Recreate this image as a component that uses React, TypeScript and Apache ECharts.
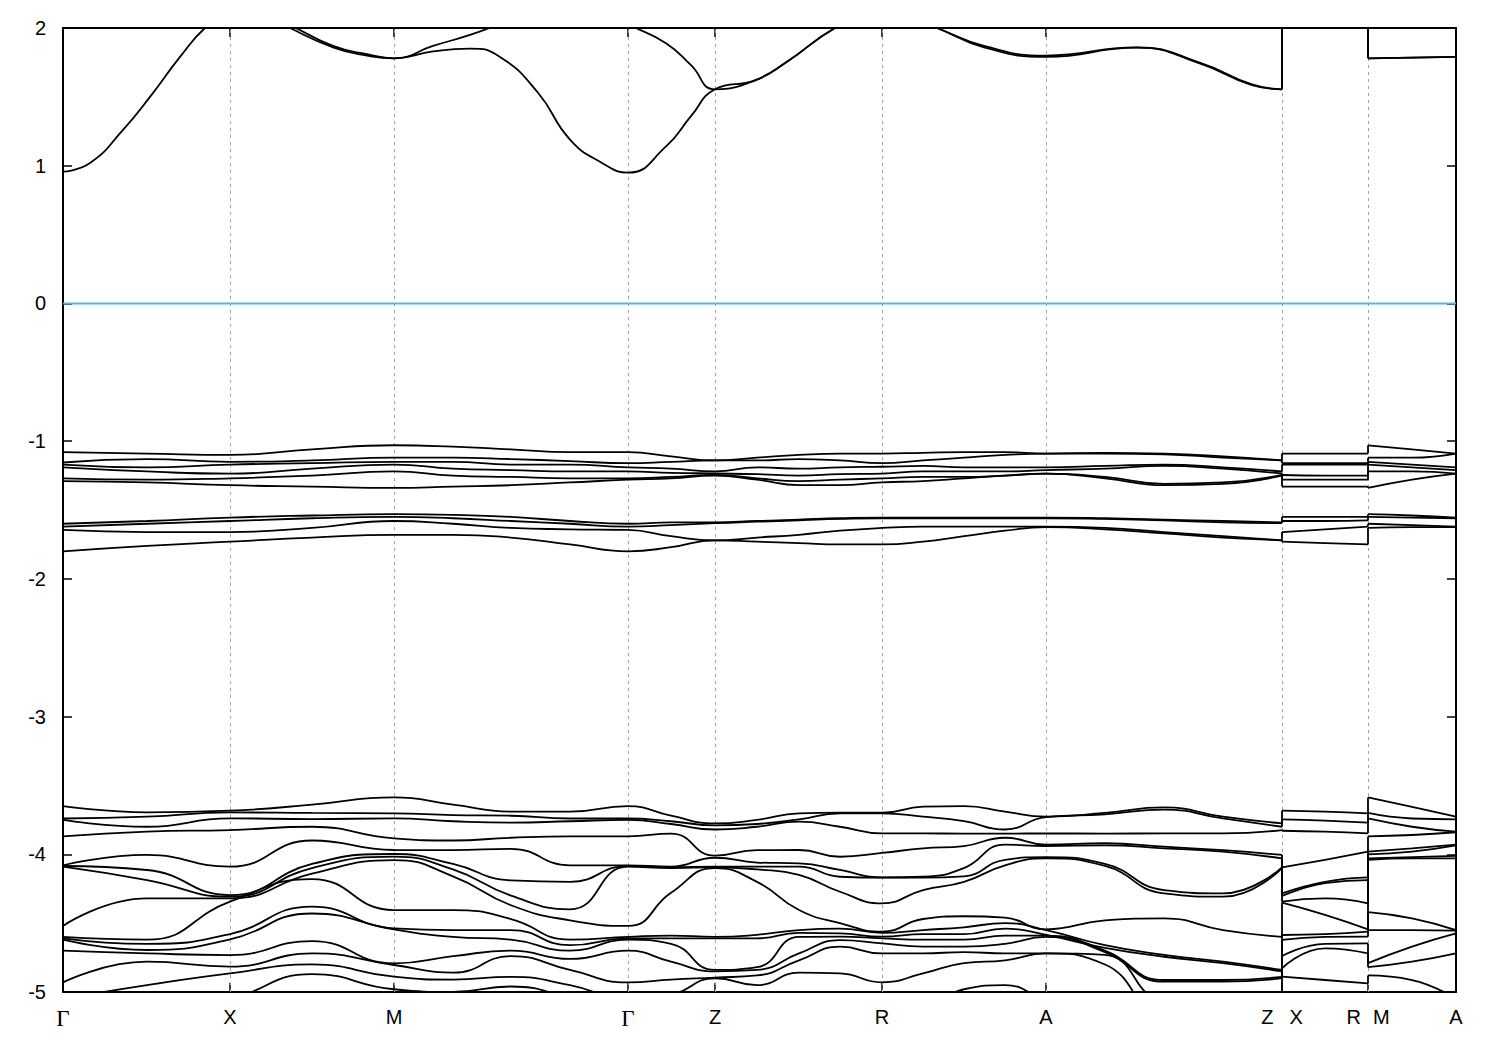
import React, { useEffect, useRef } from "react";
import * as echarts from "echarts";

// k-path coordinate of each sample column (repeated value = path break)
const kPath = [0, 84, 167, 249, 331, 390, 448, 507, 565, 608, 652, 694, 736, 777, 819, 860, 901, 942, 983, 1042, 1101, 1160, 1219, 1219, 1262, 1305, 1305, 1349, 1393];
// denser sampling used for the conduction bands
const condK = [0, 27, 60, 87, 117, 142, 167, 200, 227, 270, 304, 331, 370, 407, 437, 475, 507, 539, 565, 603, 628, 652, 692, 724, 772, 819, 874, 921, 983, 1074, 1138, 1189, 1219, 1219, 1305, 1305, 1349, 1393];
const symPoints = [0, 167, 331, 565, 652, 819, 983, 1219, 1305, 1393];
const symLabels = ["Γ", "X", "M", "Γ", "Z", "R", "A", "Z|X", "R|M", "A"];
const yTickMin = -5;
const yTickMax = 2;
const yTickStep = 1;
const fermiLevel = 0;

// conduction bands (on condK)
const cond1 = [0.957, 1.02, 1.26, 1.5, 1.79, 2.0, 2.12, 2.1, 2.0, 1.86, 1.8, 1.78, 1.83, 1.85, 1.79, 1.53, 1.19, 1.02, 0.95, 1.14, 1.36, 1.555, 1.62, 1.755, 2.0, 2.15, 2.0, 1.86, 1.79, 1.857, 1.74, 1.586, 1.555, 2.3, 2.3, 1.78, 1.785, 1.79];
const cond2 = [2.5, 2.45, 2.4, 2.35, 2.3, 2.25, 2.2, 2.1, 2.02, 1.87, 1.81, 1.78, 1.87, 1.95, 2.03, 2.15, 2.2, 2.15, 2.03, 1.89, 1.73, 1.555, 1.62, 1.755, 2.0, 2.15, 2.0, 1.87, 1.8, 1.86, 1.745, 1.59, 1.555, 2.3, 2.3, 1.78, 1.785, 1.79];

// valence cluster around -1.0 .. -1.35 (on kPath)
const upper1 = [-1.08, -1.09, -1.1, -1.06, -1.03, -1.04, -1.06, -1.08, -1.08, -1.11, -1.14, -1.12, -1.1, -1.09, -1.09, -1.085, -1.08, -1.08, -1.09, -1.085, -1.09, -1.11, -1.14, -1.09, -1.09, -1.09, -1.03, -1.06, -1.09];
const upper2 = [-1.155, -1.13, -1.15, -1.14, -1.12, -1.12, -1.13, -1.145, -1.16, -1.15, -1.14, -1.14, -1.13, -1.14, -1.16, -1.14, -1.12, -1.1, -1.09, -1.09, -1.095, -1.12, -1.14, -1.16, -1.16, -1.16, -1.12, -1.12, -1.09];
const upper3 = [-1.17, -1.19, -1.17, -1.16, -1.15, -1.15, -1.17, -1.17, -1.19, -1.2, -1.22, -1.19, -1.2, -1.19, -1.186, -1.18, -1.19, -1.19, -1.19, -1.18, -1.17, -1.19, -1.22, -1.17, -1.17, -1.17, -1.15, -1.17, -1.19];
const upper4 = [-1.19, -1.22, -1.236, -1.2, -1.17, -1.2, -1.21, -1.22, -1.22, -1.23, -1.235, -1.24, -1.25, -1.24, -1.236, -1.22, -1.22, -1.22, -1.21, -1.2, -1.18, -1.2, -1.235, -1.246, -1.25, -1.25, -1.17, -1.19, -1.21];
const upper5 = [-1.27, -1.28, -1.27, -1.25, -1.22, -1.25, -1.26, -1.27, -1.27, -1.26, -1.245, -1.27, -1.29, -1.28, -1.27, -1.26, -1.26, -1.25, -1.236, -1.26, -1.31, -1.3, -1.245, -1.28, -1.28, -1.28, -1.22, -1.22, -1.236];
const upper6 = [-1.29, -1.3, -1.32, -1.33, -1.34, -1.33, -1.32, -1.3, -1.28, -1.27, -1.25, -1.28, -1.32, -1.32, -1.3, -1.29, -1.27, -1.25, -1.236, -1.27, -1.32, -1.31, -1.25, -1.33, -1.33, -1.33, -1.34, -1.28, -1.236];

// valence cluster around -1.5 .. -1.8 (on kPath)
const lower1 = [-1.6, -1.58, -1.555, -1.54, -1.53, -1.535, -1.55, -1.58, -1.6, -1.59, -1.59, -1.58, -1.57, -1.56, -1.555, -1.555, -1.555, -1.555, -1.555, -1.56, -1.57, -1.58, -1.59, -1.55, -1.55, -1.55, -1.53, -1.54, -1.555];
const lower2 = [-1.62, -1.6, -1.58, -1.56, -1.55, -1.56, -1.58, -1.6, -1.62, -1.61, -1.595, -1.585, -1.575, -1.565, -1.56, -1.56, -1.56, -1.56, -1.56, -1.565, -1.575, -1.59, -1.595, -1.58, -1.58, -1.575, -1.55, -1.555, -1.56];
const lower3 = [-1.645, -1.66, -1.66, -1.63, -1.58, -1.6, -1.63, -1.64, -1.645, -1.69, -1.72, -1.7, -1.68, -1.65, -1.63, -1.62, -1.62, -1.62, -1.62, -1.63, -1.66, -1.69, -1.72, -1.66, -1.64, -1.62, -1.6, -1.61, -1.62];
const lower4 = [-1.8, -1.76, -1.73, -1.7, -1.68, -1.68, -1.7, -1.75, -1.8, -1.77, -1.72, -1.73, -1.74, -1.75, -1.75, -1.73, -1.69, -1.65, -1.625, -1.64, -1.67, -1.7, -1.72, -1.73, -1.74, -1.75, -1.63, -1.625, -1.625];

// deep valence manifold: energies (sorted) at each kPath column
const deepByK = [
  [-3.65, -3.74, -3.75, -3.87, -4.08, -4.085, -4.09, -4.52, -4.6, -4.61, -4.62, -4.7, -4.93, -5.05, -5.2, -5.4],
  [-3.695, -3.727, -3.8, -3.835, -4.005, -4.114, -4.187, -4.32, -4.62, -4.65, -4.695, -4.72, -4.78, -4.95, -5.15, -5.3],
  [-3.683, -3.696, -3.739, -3.824, -4.09, -4.296, -4.308, -4.32, -4.344, -4.579, -4.618, -4.732, -4.816, -4.865, -5.05, -5.2],
  [-3.64, -3.7, -3.745, -3.8, -3.9, -4.07, -4.1, -4.14, -4.18, -4.38, -4.43, -4.63, -4.72, -4.8, -4.87, -5.0],
  [-3.587, -3.703, -3.739, -3.884, -3.969, -3.998, -4.017, -4.042, -4.405, -4.538, -4.545, -4.792, -4.804, -4.889, -4.98, -5.1],
  [-3.64, -3.715, -3.76, -3.9, -3.97, -4.07, -4.11, -4.16, -4.405, -4.55, -4.6, -4.74, -4.86, -4.91, -5.0, -5.15],
  [-3.69, -3.72, -3.77, -3.88, -3.96, -4.19, -4.3, -4.37, -4.47, -4.55, -4.62, -4.7, -4.74, -4.89, -4.96, -5.05],
  [-3.69, -3.74, -3.76, -3.87, -4.08, -4.2, -4.4, -4.48, -4.62, -4.66, -4.7, -4.76, -4.84, -4.95, -5.05, -5.15],
  [-3.65, -3.74, -3.75, -3.87, -4.08, -4.085, -4.09, -4.52, -4.6, -4.61, -4.62, -4.7, -4.93, -5.05, -5.2, -5.4],
  [-3.72, -3.76, -3.78, -3.85, -4.09, -4.095, -4.1, -4.28, -4.59, -4.61, -4.65, -4.78, -4.91, -5.02, -5.15, -5.4],
  [-3.776, -3.79, -3.82, -4.01, -4.025, -4.09, -4.095, -4.1, -4.6, -4.61, -4.84, -4.85, -4.895, -4.9, -5.1, -5.3],
  [-3.75, -3.78, -3.8, -3.97, -4.06, -4.09, -4.11, -4.2, -4.585, -4.61, -4.82, -4.84, -4.88, -4.95, -5.1, -5.3],
  [-3.703, -3.746, -3.763, -3.969, -4.066, -4.09, -4.15, -4.405, -4.55, -4.57, -4.6, -4.72, -4.77, -4.86, -5.1, -5.3],
  [-3.698, -3.703, -3.8, -4.018, -4.114, -4.163, -4.272, -4.5, -4.54, -4.574, -4.598, -4.623, -4.671, -4.865, -5.1, -5.3],
  [-3.698, -3.703, -3.848, -3.99, -4.168, -4.17, -4.356, -4.562, -4.57, -4.598, -4.61, -4.647, -4.72, -4.93, -5.1, -5.3],
  [-3.654, -3.727, -3.848, -3.957, -4.163, -4.17, -4.26, -4.47, -4.55, -4.58, -4.62, -4.67, -4.72, -4.865, -5.1, -5.3],
  [-3.65, -3.76, -3.85, -3.94, -4.1, -4.16, -4.2, -4.45, -4.53, -4.58, -4.62, -4.67, -4.71, -4.79, -4.98, -5.3],
  [-3.69, -3.82, -3.85, -3.88, -3.93, -4.04, -4.08, -4.46, -4.5, -4.54, -4.59, -4.65, -4.72, -4.77, -4.95, -5.3],
  [-3.727, -3.73, -3.848, -3.93, -3.94, -4.02, -4.03, -4.545, -4.55, -4.586, -4.59, -4.6, -4.72, -4.72, -5.05, -5.3],
  [-3.7, -3.71, -3.85, -3.92, -3.935, -4.07, -4.085, -4.48, -4.66, -4.68, -4.7, -4.71, -4.73, -4.8, -5.1, -5.3],
  [-3.66, -3.675, -3.848, -3.945, -3.957, -4.26, -4.284, -4.465, -4.73, -4.744, -4.913, -4.925, -5.05, -5.15, -5.25, -5.35],
  [-3.727, -3.74, -3.848, -3.97, -3.981, -4.284, -4.308, -4.55, -4.78, -4.79, -4.913, -4.925, -5.05, -5.15, -5.25, -5.35],
  [-3.776, -3.8, -3.824, -4.005, -4.03, -4.095, -4.1, -4.6, -4.84, -4.85, -4.89, -4.9, -5.05, -5.15, -5.25, -5.35],
  [-3.683, -3.746, -3.829, -4.095, -4.284, -4.303, -4.344, -4.351, -4.586, -4.622, -4.739, -4.828, -4.889, -5.1, -5.2, -5.3],
  [-3.69, -3.755, -3.836, -4.04, -4.2, -4.21, -4.32, -4.44, -4.58, -4.6, -4.65, -4.683, -4.913, -5.1, -5.2, -5.3],
  [-3.703, -3.77, -3.848, -3.981, -4.168, -4.187, -4.356, -4.545, -4.562, -4.598, -4.647, -4.72, -4.937, -5.1, -5.2, -5.3],
  [-3.587, -3.7, -3.74, -3.87, -3.98, -4.0, -4.03, -4.04, -4.42, -4.55, -4.79, -4.82, -4.88, -5.05, -5.2, -5.3],
  [-3.655, -3.74, -3.8, -3.86, -3.957, -3.98, -4.02, -4.03, -4.465, -4.55, -4.67, -4.78, -4.913, -5.1, -5.2, -5.3],
  [-3.727, -3.746, -3.836, -3.84, -3.93, -3.935, -4.012, -4.03, -4.55, -4.555, -4.574, -4.72, -5.05, -5.1, -5.2, -5.3],
];

const FONT = "'Liberation Sans', Arial, Helvetica, sans-serif";

function buildOption() {
  const deepBands = deepByK[0].map((_, b) => deepByK.map((row) => row[b]));
  const pathBands = [upper1, upper2, upper3, upper4, upper5, upper6, lower1, lower2, lower3, lower4, ...deepBands];

  const clampY = (v: number) => Math.max(yTickMin, Math.min(yTickMax, v));
  const series: any[] = [];
  const bandStyle = { color: "#000", width: 1.8 };

  const addBand = (ks: number[], vals: number[]) => {
    let seg: number[][] = [];
    const segs: number[][][] = [];
    for (let i = 0; i < ks.length; i++) {
      if (i > 0 && ks[i] === ks[i - 1]) {
        segs.push(seg);
        seg = [];
        series.push({
          type: "line",
          data: [
            [ks[i], clampY(vals[i - 1])],
            [ks[i], clampY(vals[i])],
          ],
          showSymbol: false,
          symbol: "none",
          smooth: false,
          lineStyle: bandStyle,
          silent: true,
          z: 3,
        });
      }
      seg.push([ks[i], vals[i]]);
    }
    segs.push(seg);
    segs.forEach((s) => {
      series.push({
        type: "line",
        data: s,
        showSymbol: false,
        symbol: "none",
        smooth: 0.5,
        clip: true,
        lineStyle: bandStyle,
        silent: true,
        z: 3,
      });
    });
  };

  addBand(condK, cond1);
  addBand(condK, cond2);
  pathBands.forEach((vals) => addBand(kPath, vals));

  // Fermi level + dashed high-symmetry guide lines
  series.push({
    type: "line",
    data: [
      [kPath[0], fermiLevel],
      [kPath[kPath.length - 1], fermiLevel],
    ],
    showSymbol: false,
    symbol: "none",
    lineStyle: { color: "#56b4e9", width: 2 },
    silent: true,
    z: 4,
    markLine: {
      silent: true,
      symbol: "none",
      label: { show: false },
      lineStyle: { color: "#a0a0a0", type: [3, 4], width: 1 },
      data: symPoints.slice(1, -1).map((x) => ({ xAxis: x })),
      z: 1,
    },
  });

  const labelFor = (v: number) => {
    let best = 0;
    symPoints.forEach((p, i) => {
      if (Math.abs(p - v) < Math.abs(symPoints[best] - v)) best = i;
    });
    const t = symLabels[best];
    if (t === "Γ") return "{g|Γ}";
    if (t.indexOf("|") >= 0) {
      const [a, b] = t.split("|");
      if (a === "Z") return `{zl|${a}}{zr|${b}}`;
      return `{rl|${a}}{rr|${b}}`;
    }
    return t;
  };

  const xBase = {
    type: "value",
    min: symPoints[0],
    max: symPoints[symPoints.length - 1],
    axisLine: { show: true, onZero: false, lineStyle: { color: "#000", width: 2 } },
    splitLine: { show: false },
  };
  const yBase = {
    type: "value",
    min: yTickMin,
    max: yTickMax,
    interval: yTickStep,
    axisLine: { show: true, onZero: false, lineStyle: { color: "#000", width: 2 } },
    axisTick: { show: true, inside: true, length: 9, lineStyle: { color: "#000", width: 1.5 } },
    splitLine: { show: false },
  };

  return {
    animation: false,
    backgroundColor: "#fff",
    grid: { left: 63, right: 44, top: 28, bottom: 58, containLabel: false },
    xAxis: [
      {
        ...xBase,
        position: "bottom",
        axisTick: { show: true, inside: true, length: 9, customValues: symPoints, lineStyle: { color: "#000", width: 1.5 } },
        axisLabel: {
          show: true,
          customValues: symPoints,
          formatter: labelFor,
          margin: 15,
          fontSize: 20,
          color: "#000",
          fontFamily: FONT,
          rich: {
            g: { fontFamily: "'Liberation Serif', 'DejaVu Serif', serif", fontSize: 23, color: "#000" },
            zl: { fontSize: 20, fontFamily: FONT, color: "#000", padding: [0, 8, 0, 0] },
            zr: { fontSize: 20, fontFamily: FONT, color: "#000", padding: [0, 0, 0, 8] },
            rl: { fontSize: 20, fontFamily: FONT, color: "#000", padding: [0, 6, 0, 0] },
            rr: { fontSize: 20, fontFamily: FONT, color: "#000", padding: [0, 0, 0, 6] },
          },
        },
      },
      {
        ...xBase,
        position: "top",
        axisTick: { show: true, inside: true, length: 9, customValues: symPoints, lineStyle: { color: "#000", width: 1.5 } },
        axisLabel: { show: false },
      },
    ],
    yAxis: [
      {
        ...yBase,
        position: "left",
        axisLabel: { show: true, margin: 17, fontSize: 20, color: "#000", fontFamily: FONT },
      },
      {
        ...yBase,
        position: "right",
        axisLabel: { show: false },
      },
    ],
    series,
  };
}

export default function App() {
  const ref = useRef<HTMLDivElement>(null);
  useEffect(() => {
    if (!ref.current) return;
    const chart = echarts.init(ref.current, null, { renderer: "svg" });
    chart.setOption(buildOption() as any);
    return () => chart.dispose();
  }, []);
  return (
    <div
      ref={ref}
      style={{ position: "fixed", left: 0, top: 0, width: 1500, height: 1050, background: "#fff" }}
    />
  );
}
